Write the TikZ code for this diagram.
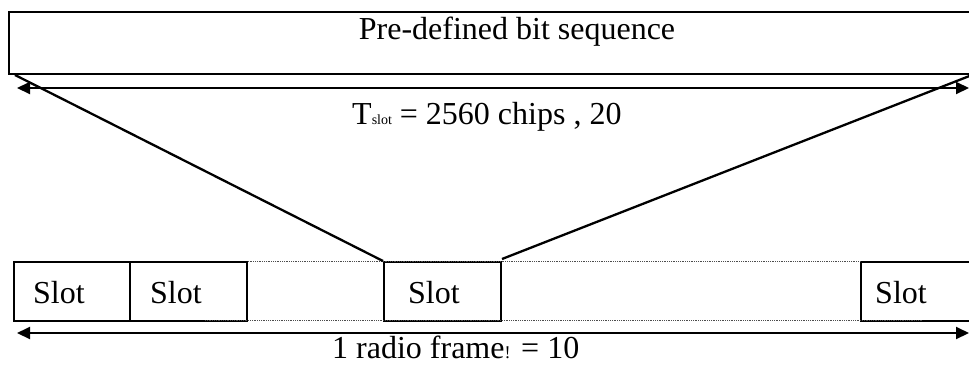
\documentclass[tikz,border=0pt]{standalone}
\usepackage{fontspec}
\setmainfont{Liberation Serif}
\usetikzlibrary{arrows.meta}
\begin{document}
\begin{tikzpicture}[x=1pt,y=-1pt,
  seqbox/.style={draw, line width=2pt, inner sep=0pt, anchor=north west},
  slotbox/.style={draw, line width=1.8pt, minimum height=59pt, inner sep=0pt, anchor=north west},
  lbl/.style={font=\fontsize{32}{36}\selectfont, inner sep=0pt},
  dimline/.style={line width=2pt, {Triangle[length=13pt,width=12pt]}-{Triangle[length=13pt,width=12pt]}},
  diag/.style={line width=2.3pt},
  dotline/.style={densely dotted, line width=0.8pt, black!70}]
\useasboundingbox (0,0) rectangle (969,365);
\clip (0,0) rectangle (969,365);
% top box
\node[seqbox, minimum width=975pt, minimum height=62pt] (seq) at (8,11) {};
\node[lbl, anchor=base] (seqtxt) at (517,39) {Pre-defined bit sequence};
% top dimension arrow
\coordinate (ta) at (17,88);
\coordinate (tb) at (969,88);
\draw[dimline] (ta) -- (tb);
\node[lbl, anchor=base west] (tslot) at (352,124) {T{\fontsize{14}{14}\selectfont slot} = 2560 chips , 20};
% dotted frame lines
\coordinate (db1) at (205,320);
\coordinate (db2) at (923,320);
% slots
\node[slotbox, minimum width=116pt] (s1) at (13,261) {};
\node[slotbox, minimum width=117pt] (s2) at (129,261) {};
\node[slotbox, minimum width=117pt] (s3) at (383,261) {};
\node[slotbox, minimum width=125pt] (s4) at (860,261) {};
\draw[dotline] (s2.north east) -- (s4.north west);
\draw[dotline] (db1) -- (db2);
\node[lbl, anchor=base west] (l1) at (33,303) {Slot};
\node[lbl, anchor=base west] (l2) at (150,303) {Slot};
\node[lbl, anchor=base west] (l3) at (408,303) {Slot};
\node[lbl, anchor=base west] (l4) at (875,303) {Slot};
% diagonals
\coordinate (dl) at (15,75);
\coordinate (dr) at (972,75);
\coordinate (s3r) at (502,259);
\draw[diag] (dl) -- (s3.north west);
\draw[diag] (s3r) -- (dr);
% bottom dimension arrow
\coordinate (ba) at (17,333);
\coordinate (bb) at (969,333);
\draw[dimline] (ba) -- (bb);
\node[lbl, anchor=base west] (frame) at (332,358) {1 radio frame{\fontsize{18}{18}\selectfont !} = 10};
\end{tikzpicture}
\end{document}
